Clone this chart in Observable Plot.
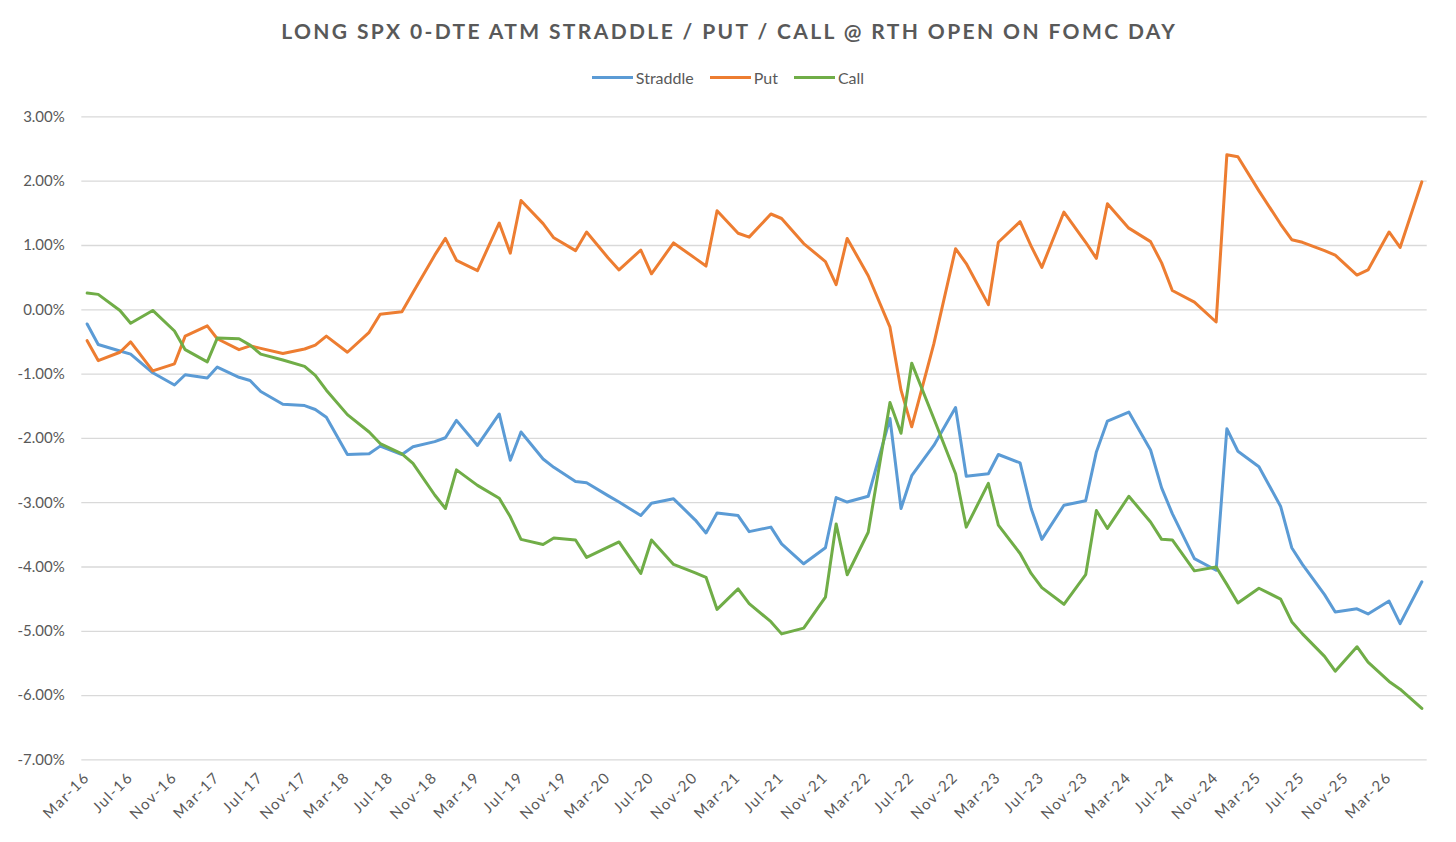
<!DOCTYPE html>
<html>
<head>
<meta charset="utf-8">
<script src="https://cdn.jsdelivr.net/npm/d3@7"></script>
<script src="https://cdn.jsdelivr.net/npm/@observablehq/plot@0.6"></script>
<style>
  html, body { margin: 0; padding: 0; background: #fff; }
  body { width: 1456px; height: 842px; overflow: hidden; position: relative; font-family: Lato, "Open Sans", sans-serif; color: #595959; }
  #title { position: absolute; left: 0; top: 16px; width: 1456px; text-align: center; font-size: 21px; font-weight: 700; line-height: 30px; white-space: nowrap; }
  #legend { position: absolute; left: 0; top: 66px; width: 1456px; height: 22px; display: flex; justify-content: center; align-items: center; font-size: 16px; }
  .item { display: flex; align-items: center; margin: 0 8px; }
  .swatch { width: 41px; height: 3px; margin-right: 3px; }
  #chart { position: absolute; left: 0; top: 95px; }
  #chart svg g[aria-label="text"] text { letter-spacing: 1.5px; }
</style>
</head>
<body>
<div id="title"><span id="title-text">LONG SPX 0-DTE ATM STRADDLE / PUT / CALL @ RTH OPEN ON FOMC DAY</span></div>
<div id="legend"></div>
<div id="chart"></div>
<script>
// FOMC meeting months (x categories)
const dates = [
  "2016-03","2016-04","2016-06","2016-07","2016-09","2016-11","2016-12",
  "2017-02","2017-03","2017-05","2017-06","2017-07","2017-09","2017-11","2017-12",
  "2018-01","2018-03","2018-05","2018-06","2018-08","2018-09","2018-11","2018-12",
  "2019-01","2019-03","2019-05","2019-06","2019-07","2019-09","2019-10","2019-12",
  "2020-01","2020-03","2020-04","2020-06","2020-07","2020-09","2020-11","2020-12",
  "2021-01","2021-03","2021-04","2021-06","2021-07","2021-09","2021-11","2021-12",
  "2022-01","2022-03","2022-05","2022-06","2022-07","2022-09","2022-11","2022-12",
  "2023-02","2023-03","2023-05","2023-06","2023-07","2023-09","2023-11","2023-12",
  "2024-01","2024-03","2024-05","2024-06","2024-07","2024-09","2024-11","2024-12",
  "2025-01","2025-03","2025-05","2025-06","2025-07","2025-09","2025-10","2025-12",
  "2026-01","2026-03","2026-04","2026-06"
];

// cumulative P&L, percent
const straddle = [
  -0.22,-0.54,-0.64,-0.69,-0.98,-1.17,-1.01,
  -1.06,-0.89,-1.05,-1.10,-1.27,-1.47,-1.49,-1.55,
  -1.67,-2.25,-2.24,-2.12,-2.25,-2.13,-2.05,-1.99,
  -1.72,-2.11,-1.62,-2.34,-1.90,-2.32,-2.45,-2.67,
  -2.69,-2.89,-2.99,-3.20,-3.01,-2.94,-3.27,-3.47,
  -3.16,-3.20,-3.45,-3.38,-3.64,-3.95,-3.70,-2.92,
  -2.99,-2.90,-1.69,-3.09,-2.58,-2.11,-1.52,-2.59,
  -2.55,-2.25,-2.38,-3.09,-3.57,-3.04,-2.97,-2.21,
  -1.73,-1.59,-2.18,-2.77,-3.17,-3.87,-4.05,-1.85,
  -2.20,-2.44,-3.06,-3.70,-3.96,-4.43,-4.70,-4.65,
  -4.73,-4.53,-4.88,-4.23
];

const put = [
  -0.48,-0.79,-0.66,-0.50,-0.95,-0.84,-0.41,
  -0.25,-0.45,-0.62,-0.56,-0.60,-0.68,-0.61,-0.55,
  -0.41,-0.66,-0.35,-0.07,-0.03,0.27,0.85,1.11,
  0.77,0.61,1.35,0.88,1.70,1.34,1.12,0.92,
  1.21,0.81,0.62,0.93,0.56,1.04,0.80,0.68,
  1.54,1.19,1.13,1.49,1.42,1.03,0.75,0.39,
  1.11,0.53,-0.27,-1.25,-1.82,-0.53,0.95,0.72,
  0.08,1.05,1.37,0.99,0.66,1.52,1.05,0.80,
  1.65,1.27,1.06,0.73,0.30,0.12,-0.19,2.41,
  2.38,1.85,1.33,1.09,1.05,0.92,0.85,0.54,
  0.62,1.21,0.97,1.99
];

const call = [
  0.26,0.24,-0.01,-0.21,-0.01,-0.33,-0.62,
  -0.81,-0.44,-0.45,-0.55,-0.69,-0.78,-0.88,-1.02,
  -1.25,-1.63,-1.90,-2.08,-2.24,-2.39,-2.88,-3.09,
  -2.49,-2.73,-2.93,-3.22,-3.57,-3.65,-3.55,-3.58,
  -3.85,-3.69,-3.61,-4.10,-3.58,-3.96,-4.09,-4.16,
  -4.66,-4.34,-4.57,-4.85,-5.04,-4.95,-4.47,-3.33,
  -4.12,-3.46,-1.44,-1.92,-0.83,-1.69,-2.55,-3.38,
  -2.70,-3.35,-3.79,-4.10,-4.32,-4.58,-4.12,-3.12,
  -3.40,-2.90,-3.30,-3.57,-3.58,-4.06,-4.00,-4.27,
  -4.56,-4.33,-4.50,-4.85,-5.04,-5.39,-5.62,-5.24,
  -5.48,-5.78,-5.90,-6.20
];

const seriesNames = ["Straddle", "Put", "Call"];
const seriesColors = ["#5B9BD5", "#ED7D31", "#70AD47"];
const yTicks = [3, 2, 1, 0, -1, -2, -3, -4, -5, -6, -7];
const xTickLabels = [
  "Mar-16","Jul-16","Nov-16","Mar-17","Jul-17","Nov-17","Mar-18","Jul-18","Nov-18",
  "Mar-19","Jul-19","Nov-19","Mar-20","Jul-20","Nov-20","Mar-21","Jul-21","Nov-21",
  "Mar-22","Jul-22","Nov-22","Mar-23","Jul-23","Nov-23","Mar-24","Jul-24","Nov-24",
  "Mar-25","Jul-25","Nov-25","Mar-26"
];

const parseMonth = d3.utcParse("%Y-%m");
const parseTick = d3.utcParse("%b-%y");
const seriesValues = [straddle, put, call];
const rows = [];
seriesNames.forEach((name, i) => {
  dates.forEach((d, j) => rows.push({series: name, date: parseMonth(d), value: seriesValues[i][j]}));
});
const tickRows = xTickLabels.map(l => ({label: l, date: parseTick(l)}));

const chart = Plot.plot({
  width: 1456,
  height: 747,
  marginTop: 21.4,
  marginBottom: 82.6,
  marginLeft: 81.3,
  marginRight: 29.3,
  style: {fontFamily: "Lato, 'Open Sans', sans-serif", fontSize: "15px", color: "#595959", background: "#fff", overflow: "visible"},
  x: {type: "utc", domain: [new Date(Date.UTC(2016, 1, 15)), new Date(Date.UTC(2026, 5, 16))], axis: null},
  y: {domain: [-7, 3], ticks: yTicks, tickSize: 0, tickPadding: 17, tickFormat: v => v.toFixed(2) + "%", label: null},
  color: {domain: seriesNames, range: seriesColors},
  marks: [
    Plot.ruleY(yTicks, {stroke: "#d9d9d9", strokeWidth: 1.3}),
    Plot.text(tickRows, {x: "date", y: () => -7, text: "label", rotate: -45, textAnchor: "end", lineAnchor: "middle", dy: 15, fontSize: 15}),
    Plot.line(rows, {x: "date", y: "value", z: "series", stroke: "series", strokeWidth: 3, strokeLinejoin: "round"})
  ]
});
document.getElementById("chart").appendChild(chart);

// legend
const legend = document.getElementById("legend");
seriesNames.forEach((name, i) => {
  const item = document.createElement("div");
  item.className = "item";
  const sw = document.createElement("div");
  sw.className = "swatch";
  sw.style.background = seriesColors[i];
  const lab = document.createElement("span");
  lab.textContent = name;
  item.appendChild(sw);
  item.appendChild(lab);
  legend.appendChild(item);
});

// title letter spacing to match reference width
function fitTitle() {
  const t = document.getElementById("title-text");
  t.style.letterSpacing = "0px";
  t.style.paddingLeft = "0px";
  const w = t.getBoundingClientRect().width;
  const n = t.textContent.length;
  const ls = (896 - w) / n;
  t.style.letterSpacing = ls + "px";
  t.style.paddingLeft = ls + "px";
}
fitTitle();
if (document.fonts && document.fonts.ready) document.fonts.ready.then(fitTitle);
</script>
</body>
</html>
